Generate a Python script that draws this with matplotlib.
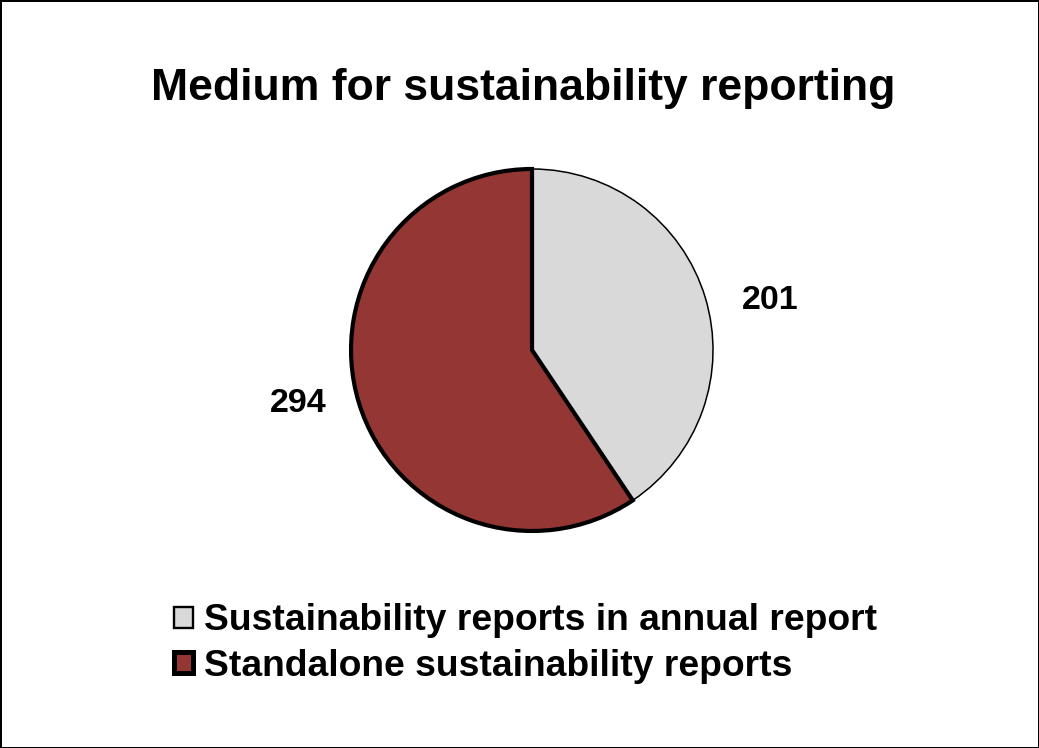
import matplotlib
matplotlib.use("Agg")
import matplotlib.pyplot as plt
from matplotlib.patches import Patch

plt.rcParams['font.family'] = ['Liberation Sans', 'DejaVu Sans']
plt.rcParams['font.weight'] = 'bold'

title = "Medium for sustainability reporting"
categories = ["Sustainability reports in annual report", "Standalone sustainability reports"]
values = [201, 294]
colors = ["#D9D9D9", "#943634"]
edge_widths = [1.1, 3.0]
label_pos = [(1.315, 0.276), (-1.293, -0.293)]

fig = plt.figure(figsize=(10.39, 7.48), dpi=100)
fig.patch.set_facecolor("white")
fig.patch.set_edgecolor("black")
fig.patch.set_linewidth(2.0)

ax = fig.add_axes([0.2943, 0.2296, 0.4355, 0.605])
wedges, _ = ax.pie(values, colors=colors, startangle=90, counterclock=False,
                   wedgeprops=dict(edgecolor="black"))
for w, lw in zip(wedges, edge_widths):
    w.set_linewidth(lw)
ax.set_xlim(-1.25, 1.25)
ax.set_ylim(-1.25, 1.25)
ax.set_aspect("equal")

for v, (x, y) in zip(values, label_pos):
    ax.text(x, y, str(v), ha="center", va="center", fontsize=24.5, fontweight="bold")

fig.text(0.504, 0.882, title, ha="center", va="center", fontsize=32, fontweight="bold")

handles = [Patch(facecolor=c, edgecolor="black", linewidth=lw + 0.6)
           for c, lw in zip(colors, edge_widths)]
fig.legend(handles, categories, loc="center", bbox_to_anchor=(0.506, 0.1397),
           frameon=False, fontsize=26.8, handlelength=0.5, handleheight=0.5,
           handletextpad=0.3, labelspacing=0.27, borderpad=0)

fig.savefig("out.png", dpi=100, facecolor=fig.get_facecolor(), edgecolor=fig.get_edgecolor())
